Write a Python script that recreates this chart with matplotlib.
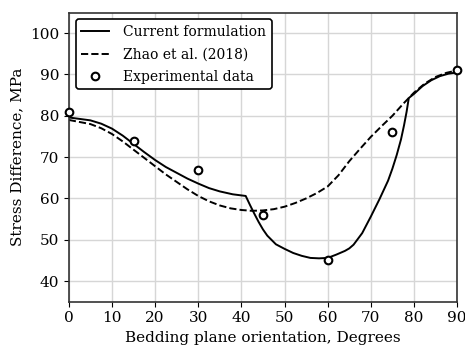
import matplotlib
matplotlib.use("Agg")
import matplotlib.pyplot as plt

plt.rcParams['font.family'] = 'DejaVu Serif'
plt.rcParams['font.size'] = 11

# angle (deg) / stress difference (MPa)
cur_x = [0, 5, 7.5, 10, 12.5, 15, 17.5, 20, 22.5, 25, 27.5, 30, 32.5, 35, 38, 41,
         42, 43, 44, 45, 46, 48, 50, 52, 54, 56, 58, 60, 62, 64, 65, 66, 68, 70,
         72, 74, 75, 76, 77, 77.7, 78.3, 78.8, 80, 82, 84, 86, 88, 90]
cur_y = [79.6, 78.9, 78.1, 76.9, 75.2, 73.2, 71.2, 69.3, 67.6, 66.2, 64.8, 63.6, 62.5, 61.7, 61.0, 60.6,
         58.4, 56.3, 54.3, 52.5, 51.0, 48.9, 47.8, 46.8, 46.1, 45.6, 45.5, 45.6, 46.4, 47.3, 47.9, 48.8, 51.6, 55.6,
         59.8, 64.3, 67.2, 70.5, 74.3, 77.7, 81.0, 84.3, 85.3, 87.2, 88.6, 89.6, 90.2, 90.5]

zhao_x = [0, 5, 7.5, 10, 12.5, 15, 17.5, 20, 22.5, 25, 27.5, 30, 32.5, 35, 37.5, 40,
          42.5, 45, 47.5, 50, 52.5, 55, 57.5, 60, 62.5, 65, 67.5, 70, 72.5, 75,
          77.5, 80, 82.5, 85, 87.5, 90]
zhao_y = [79.0, 78.0, 77.0, 75.6, 73.8, 71.8, 69.8, 67.8, 65.8, 64.0, 62.2, 60.6, 59.3, 58.3, 57.6, 57.2,
          57.0, 57.1, 57.4, 58.0, 58.9, 60.0, 61.3, 62.9, 65.6, 69.0, 72.0, 74.9, 77.5, 80.0,
          82.9, 85.6, 87.8, 89.4, 90.4, 91.0]

exp_x = [0, 15, 30, 45, 60, 75, 90]
exp_y = [81, 74, 67, 56, 45, 76, 91]

fig = plt.figure(figsize=(4.65, 3.48), dpi=100)
ax = fig.add_axes([0.148, 0.133, 0.835, 0.831])

ax.plot(cur_x, cur_y, color="black", linewidth=1.4, label="Current formulation")
ax.plot(zhao_x, zhao_y, color="black", linewidth=1.4, linestyle="dashed", label="Zhao et al. (2018)")
ax.plot(exp_x, exp_y, linestyle="none", marker="o", markersize=5.5, markerfacecolor="white",
        markeredgecolor="black", markeredgewidth=1.5, label="Experimental data", clip_on=False, zorder=5)

ax.set_xlim(0, 90)
ax.set_ylim(35, 105)
ax.set_xticks(range(0, 91, 10))
ax.set_yticks(range(40, 101, 10))
ax.grid(True, color="#d6d6d6", linewidth=1.0)
ax.set_axisbelow(True)
for s in ax.spines.values():
    s.set_color("#333333")
    s.set_linewidth(1.2)

ax.set_xlabel("Bedding plane orientation, Degrees")
ax.set_ylabel("Stress Difference, MPa")

leg = ax.legend(loc="upper left", framealpha=1, borderaxespad=0.5, handlelength=2.0,
                handletextpad=1.0, fontsize=10, labelspacing=0.6)
leg.get_frame().set_edgecolor("black")
leg.get_frame().set_linewidth(1.2)

fig.savefig("out.png", dpi=100)
